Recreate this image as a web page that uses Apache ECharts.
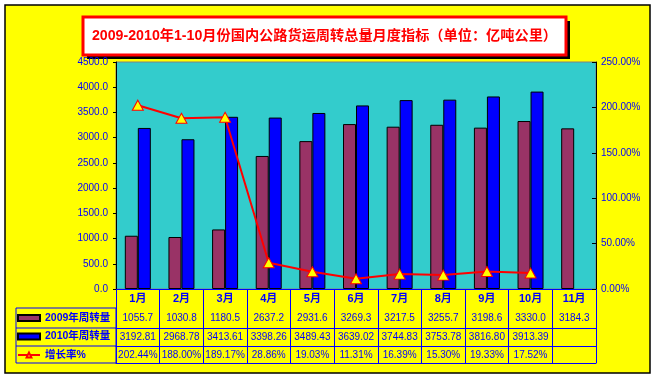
<!DOCTYPE html>
<html>
<head>
<meta charset="utf-8">
<script src="https://cdn.jsdelivr.net/npm/echarts@6/dist/echarts.min.js"></script>
<style>
html,body{margin:0;padding:0;background:#fff;}
#c{width:657px;height:379px;}
</style>
</head>
<body>
<div id="c"></div>
<script>
const titleText = '2009-2010年1-10月份国内公路货运周转总量月度指标（单位：亿吨公里）';
const months = ['1月','2月','3月','4月','5月','6月','7月','8月','9月','10月','11月'];
const vol2009 = [1055.7,1030.8,1180.5,2637.2,2931.6,3269.3,3217.5,3255.7,3198.6,3330.0,3184.3];
const vol2010 = [3192.81,2968.78,3413.61,3398.26,3489.43,3639.02,3744.83,3753.78,3816.80,3913.39,null];
const growth = [202.44,188.00,189.17,28.86,19.03,11.31,16.39,15.30,19.33,17.52,null];
const seriesNames = ['2009年周转量','2010年周转量','增长率%'];
const leftAxis = {min:0, max:4500, interval:500};
const rightAxis = {min:0, max:250, interval:50};

const row2009 = vol2009.map(v => v == null ? '' : v.toFixed(1));
const row2010 = vol2010.map(v => v == null ? '' : v.toFixed(2));
const rowGrowth = growth.map(v => v == null ? '' : v.toFixed(2) + '%');

const FONT = '"Liberation Sans", Arial, "Noto Sans CJK SC", sans-serif';
const BLUE = '#0000FF';

function tableAxis(data, offset, showLabel, margin) {
  return {
    type: 'category', data: data, position: 'bottom', offset: offset,
    gridIndex: 0,
    axisLine: {show: true, lineStyle: {color: BLUE, width: 1}},
    axisTick: {show: false},
    axisLabel: {show: showLabel, interval: 0, margin: margin, color: BLUE,
      fontSize: 10, fontFamily: FONT},
    splitLine: {show: false}
  };
}

const chart = echarts.init(document.getElementById('c'), null, {renderer: 'canvas'});
chart.setOption({
  animation: false,
  backgroundColor: '#ffffff',
  textStyle: {fontFamily: FONT},
  title: {
    text: titleText,
    left: 324.5, top: 28, textAlign: 'center',
    padding: 0,
    textStyle: {color: '#FF0000', fontSize: 14.2, fontWeight: 'bold', fontFamily: FONT, lineHeight: 16}
  },
  graphic: [
    {type: 'rect', z: -100, silent: true,
      shape: {x: 5, y: 5, width: 645, height: 368},
      style: {fill: '#FFFF00', stroke: '#000', lineWidth: 1.5}},
    {type: 'rect', z: -99, silent: true,
      shape: {x: 87, y: 21, width: 483, height: 38},
      style: {fill: '#000'}},
    {type: 'rect', z: -98, silent: true,
      shape: {x: 83, y: 17, width: 483, height: 38},
      style: {fill: '#FFFFFF', stroke: '#FF0000', lineWidth: 3}},
    {type: 'rect', z: 10, silent: true,
      shape: {x: 16, y: 308, width: 100, height: 55},
      style: {fill: 'none', stroke: BLUE, lineWidth: 1}},
    {type: 'line', z: 10, silent: true,
      shape: {x1: 16, y1: 328, x2: 116, y2: 328}, style: {stroke: BLUE, lineWidth: 1}},
    {type: 'line', z: 10, silent: true,
      shape: {x1: 16, y1: 346, x2: 116, y2: 346}, style: {stroke: BLUE, lineWidth: 1}}
  ],
  legend: {
    orient: 'vertical', left: 17, top: 312, itemGap: 6.5, padding: 0,
    itemWidth: 22, itemHeight: 6,
    data: [
      {name: seriesNames[0], icon: 'rect'},
      {name: seriesNames[1], icon: 'rect'},
      {name: seriesNames[2]}
    ],
    textStyle: {color: BLUE, fontSize: 10.5, fontWeight: 'bold', fontFamily: FONT, lineHeight: 12},
    selectedMode: false
  },
  grid: {
    left: 116, right: 61, top: 62, bottom: 90,
    show: true, backgroundColor: '#33CCCC', borderColor: '#808080', borderWidth: 1,
    containLabel: false
  },
  xAxis: [
    {
      type: 'category', data: months, position: 'bottom', offset: 0,
      axisLine: {show: true, lineStyle: {color: BLUE, width: 1}},
      axisTick: {show: true, interval: 0, length: 74, lineStyle: {color: BLUE, width: 1}},
      axisLabel: {interval: 0, margin: 4, color: BLUE, fontSize: 11, fontWeight: 'bold', fontFamily: FONT},
      splitLine: {show: false}
    },
    tableAxis(row2009, 19, true, 5),
    tableAxis(row2010, 39, true, 4),
    tableAxis(rowGrowth, 57, true, 4),
    tableAxis(months, 74, false, 4)
  ],
  yAxis: [
    {
      type: 'value', min: leftAxis.min, max: leftAxis.max, interval: leftAxis.interval,
      axisLine: {show: true, lineStyle: {color: '#000', width: 1}},
      axisTick: {show: true, length: 3, lineStyle: {color: '#000'}},
      axisLabel: {margin: 8, color: BLUE, fontSize: 10, fontFamily: FONT,
        formatter: v => v.toFixed(1)},
      splitLine: {show: false}
    },
    {
      type: 'value', min: rightAxis.min, max: rightAxis.max, interval: rightAxis.interval,
      position: 'right',
      axisLine: {show: true, lineStyle: {color: '#000', width: 1}},
      axisTick: {show: true, inside: true, length: 4, lineStyle: {color: '#000'}},
      axisLabel: {margin: 5, color: BLUE, fontSize: 10, fontFamily: FONT,
        formatter: v => v.toFixed(2) + '%'},
      splitLine: {show: false}
    }
  ],
  series: [
    {
      name: seriesNames[0], type: 'bar', data: vol2009, xAxisIndex: 0, yAxisIndex: 0,
      barWidth: 13, barGap: '0%',
      itemStyle: {color: '#993366', borderColor: '#000', borderWidth: 1}
    },
    {
      name: seriesNames[1], type: 'bar', data: vol2010, xAxisIndex: 0, yAxisIndex: 0,
      barWidth: 13, barGap: '0%',
      itemStyle: {color: '#0000FF', borderColor: '#000', borderWidth: 1}
    },
    {
      name: seriesNames[2], type: 'line', data: growth, xAxisIndex: 0, yAxisIndex: 1,
      symbol: 'triangle', symbolSize: [11, 10], showAllSymbol: true,
      lineStyle: {color: '#FF0000', width: 2},
      itemStyle: {color: '#FFFF00', borderColor: '#FF0000', borderWidth: 1},
      z: 5
    }
  ]
});
</script>
</body>
</html>
